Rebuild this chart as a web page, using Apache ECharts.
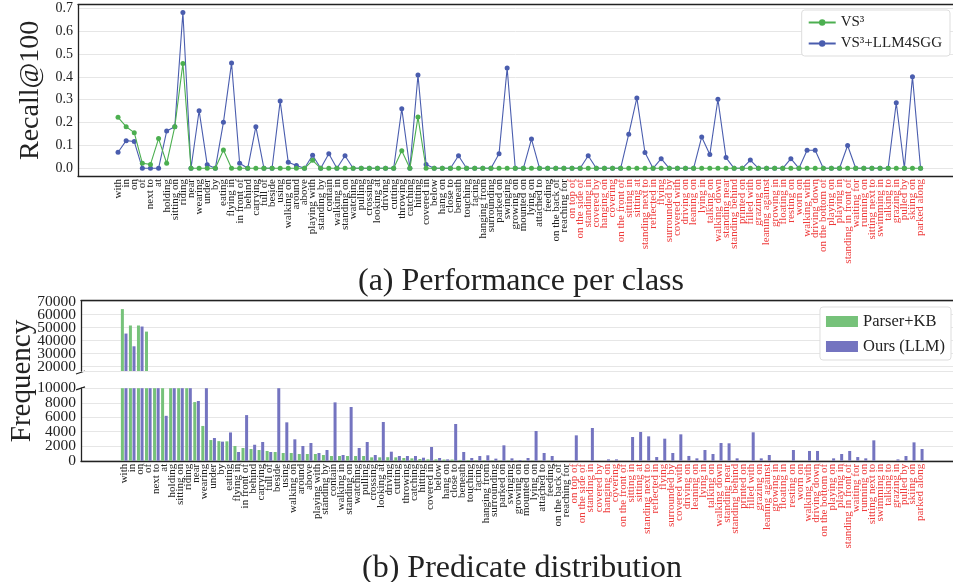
<!DOCTYPE html>
<html>
<head>
<meta charset="utf-8">
<script src="https://cdn.jsdelivr.net/npm/echarts@6/dist/echarts.min.js"></script>
<style>
html, body { margin: 0; padding: 0; background: #fff; }
#chart { width: 953px; height: 582px; }
</style>
</head>
<body>
<div id="chart"></div>
<script>
// predicate classes, ordered as on the x axis; from index 56 on they are drawn in red
const predicates = [
  'with', 'in', 'on', 'of', 'next to', 'at', 'holding', 'sitting on', 'riding', 'near',
  'wearing', 'under', 'by', 'eating', 'flying in', 'in front of', 'behind', 'carrying', 'full of', 'beside',
  'using', 'walking on', 'around', 'above', 'playing with', 'standing by', 'contain', 'walking in', 'standing on', 'watching',
  'pulling', 'crossing', 'looking at', 'driving', 'cutting', 'throwing', 'catching', 'hitting', 'covered in', 'below',
  'hang on', 'close to', 'beneath', 'touching', 'facing', 'hanging from', 'surrounding', 'parked on', 'swinging', 'growing on',
  'mounted on', 'lying on', 'attached to', 'feeding', 'on the back of', 'reaching for', 'on top of', 'on the side of', 'standing in', 'covered by',
  'hanging on', 'covering', 'on the front of', 'sitting in', 'sitting at', 'standing next to', 'reflected in', 'flying', 'surrounded by', 'covered with',
  'driving on', 'leaning on', 'lying in', 'talking on', 'walking down', 'standing near', 'standing behind', 'printed on', 'filled with', 'grazing on',
  'leaning against', 'growing in', 'floating in', 'resting on', 'worn on', 'walking with', 'driving down', 'on the bottom of', 'playing on', 'playing in',
  'standing in front of', 'waiting for', 'running on', 'sitting next to', 'swimming in', 'talking to', 'grazing in', 'pulled by', 'skiing on', 'parked along'
]
const firstNewIndex = 56

// (a) Recall@100 per class
const recallVS3 = [
  0.223, 0.182, 0.156, 0.022, 0.017, 0.13, 0.022, 0.182, 0.459, 0,
  0, 0, 0, 0.08, 0, 0, 0, 0, 0, 0,
  0, 0, 0, 0, 0.035, 0, 0, 0, 0, 0,
  0, 0, 0, 0, 0, 0.077, 0, 0.224, 0, 0,
  0, 0, 0, 0, 0, 0, 0, 0, 0, 0,
  0, 0, 0, 0, 0, 0, 0, 0, 0, 0,
  0, 0, 0, 0, 0, 0, 0, 0, 0, 0,
  0, 0, 0, 0, 0, 0, 0, 0, 0, 0,
  0, 0, 0, 0, 0, 0, 0, 0, 0, 0,
  0, 0, 0, 0, 0, 0, 0, 0, 0, 0
]
const recallLLM4SGG = [
  0.07, 0.121, 0.117, 0, 0, 0, 0.163, 0.182, 0.682, 0,
  0.252, 0.016, 0, 0.201, 0.461, 0.022, 0, 0.182, 0, 0,
  0.294, 0.026, 0.012, 0, 0.057, 0, 0.064, 0, 0.055, 0,
  0, 0, 0, 0, 0, 0.261, 0, 0.408, 0.017, 0,
  0, 0, 0.055, 0, 0, 0, 0, 0.064, 0.439, 0,
  0, 0.128, 0, 0, 0, 0, 0, 0, 0.055, 0,
  0, 0, 0, 0.149, 0.308, 0.069, 0, 0.042, 0, 0,
  0, 0, 0.137, 0.06, 0.302, 0.047, 0, 0, 0.036, 0,
  0, 0, 0, 0.042, 0, 0.079, 0.079, 0, 0, 0,
  0.1, 0, 0, 0, 0, 0, 0.287, 0, 0.401, 0
]

// (b) predicate frequency
const freqParserKB = [
  64300, 51700, 51700, 47000, 15500, 14000, 12500, 11500, 10500, 8100,
  4800, 2850, 2700, 2670, 2030, 1750, 1610, 1470, 1340, 1200,
  1060, 1060, 920, 920, 920, 780, 645, 645, 645, 645,
  645, 460, 460, 480, 460, 370, 320, 230, 180, 180,
  150, 150, 100, 80, 70, 60, 50, 40, 40, 30,
  30, 30, 20, 20, 10, 10, 0, 0, 0, 0,
  0, 0, 0, 0, 0, 0, 0, 0, 0, 0,
  0, 0, 0, 0, 0, 0, 0, 0, 0, 0,
  0, 0, 0, 0, 0, 0, 0, 0, 0, 0,
  0, 0, 0, 0, 0, 0, 0, 0, 0, 0
]
const freqOurs = [
  45500, 35700, 50900, 14000, 13000, 6200, 12000, 12000, 11000, 8250,
  10500, 3130, 2630, 3900, 1200, 6300, 2200, 2580, 1200, 10500,
  5300, 2950, 2030, 2440, 1060, 1470, 8060, 780, 7420, 1750,
  2580, 780, 5350, 1240, 645, 645, 645, 410, 1890, 370,
  180, 5070, 1200, 370, 645, 740, 280, 2120, 320, 90,
  370, 4100, 1060, 645, 0, 0, 3500, 0, 4520, 0,
  180, 180, 0, 3270, 3960, 3360, 500, 3040, 1060, 3640,
  650, 320, 1470, 920, 2440, 2400, 320, 0, 3920, 320,
  780, 0, 0, 1470, 0, 1340, 1340, 0, 320, 920,
  1340, 500, 320, 2810, 0, 0, 180, 640, 2530, 1610
]

const SERIF = '"Liberation Serif", "DejaVu Serif", serif'
const INK = '#222'
const RED = '#ee3b3b'
const GRID_LINE = '#e6e6e6'

const pairs = (arr) => arr.map((v, i) => [i, v])

// label positions: every class, plus a blank one at each end so that
// echarts' min/max label check never hides a real class name
function labelValues(min, max) {
  return [min + 0.05].concat(predicates.map((_, i) => i), [max - 0.05])
}

function categoryLabels(show, min, max) {
  return {
    show: show,
    customValues: labelValues(min, max),
    showMinLabel: false,
    showMaxLabel: false,
    rotate: 90,
    margin: 3,
    fontSize: 11,
    fontFamily: SERIF,
    formatter: (v) => predicates[v] || ' ',
    color: (v) => (Number(v) >= firstNewIndex ? RED : INK)
  }
}

function frameAxis(gridIndex, position, min, max, labels) {
  return {
    type: 'value',
    gridIndex: gridIndex,
    position: position,
    min: min,
    max: max,
    axisLine: { show: true, onZero: false, lineStyle: { color: INK, width: 1.3 } },
    axisTick: { show: false },
    splitLine: { show: false },
    axisLabel: categoryLabels(labels, min, max)
  }
}

function valueAxis(gridIndex, extra) {
  return Object.assign({
    type: 'value',
    gridIndex: gridIndex,
    axisLine: { show: true, onZero: false, lineStyle: { color: INK, width: 1.3 } },
    axisTick: { show: false },
    splitLine: { lineStyle: { color: GRID_LINE } }
  }, extra)
}

function numberLabels(size, formatter) {
  return {
    fontSize: size,
    margin: 5,
    fontFamily: SERIF,
    color: INK,
    showMinLabel: false,
    showMaxLabel: false,
    formatter: formatter
  }
}

// little slanted marks where the frequency axis is broken
function breakMark(y) {
  return {
    type: 'line',
    shape: { x1: 76, y1: y + 1.5, x2: 85, y2: y - 1.5 },
    style: { stroke: INK, lineWidth: 1.3 }
  }
}

const option = {
  animation: false,
  textStyle: { fontFamily: SERIF, color: INK },
  title: [
    {
      text: '(a) Performance per class',
      left: 516,
      top: 261,
      textAlign: 'center',
      textStyle: { fontSize: 32, fontWeight: 'normal', fontFamily: SERIF, color: INK }
    },
    {
      text: '(b) Predicate distribution',
      left: 517,
      top: 548,
      textAlign: 'center',
      textStyle: { fontSize: 32, fontWeight: 'normal', fontFamily: SERIF, color: INK }
    }
  ],
  legend: [
    {
      data: ['VS³', 'VS³+LLM4SGG'],
      orient: 'vertical',
      right: 3,
      top: 10,
      itemWidth: 27,
      itemHeight: 8,
      itemGap: 6,
      padding: [5, 8, 5, 6],
      borderColor: '#dddddd',
      borderWidth: 1,
      borderRadius: 3,
      backgroundColor: '#fff',
      textStyle: { fontSize: 15, fontFamily: SERIF, color: INK }
    },
    {
      data: ['Parser+KB', 'Ours (LLM)'],
      orient: 'vertical',
      icon: 'rect',
      right: 2,
      top: 307,
      itemWidth: 32,
      itemHeight: 11,
      itemGap: 8,
      padding: [6, 6, 5, 6],
      borderColor: '#dddddd',
      borderWidth: 1,
      borderRadius: 3,
      backgroundColor: '#fff',
      textStyle: { fontSize: 16.5, fontFamily: SERIF, color: INK }
    }
  ],
  grid: [
    { left: 78, right: 0, top: 4.7, height: 171.3 },
    { left: 81, right: 0, top: 300.7, height: 70.3 },
    { left: 81, right: 0, top: 388.2, height: 72.6 }
  ],
  xAxis: [
    frameAxis(0, 'bottom', -4.94, 103.0, true),
    frameAxis(0, 'top', -4.94, 103.0, false),
    frameAxis(1, 'top', -5.37, 103.07, false),
    frameAxis(2, 'bottom', -5.37, 103.07, true)
  ],
  yAxis: [
    valueAxis(0, {
      min: -0.0337,
      max: 0.7158,
      splitNumber: 7,
      name: 'Recall@100',
      nameLocation: 'middle',
      nameGap: 30,
      nameTextStyle: { fontSize: 28, fontFamily: SERIF, color: INK },
      axisLabel: numberLabels(14, (v) => (Math.abs(v * 10 - Math.round(v * 10)) < 1e-6 ? v.toFixed(1) : ''))
    }),
    valueAxis(1, {
      min: 16690,
      max: 70770,
      splitNumber: 5,
      axisLabel: numberLabels(15.5, (v) => (v % 10000 === 0 ? String(v) : ''))
    }),
    valueAxis(2, {
      min: -20,
      max: 10020,
      splitNumber: 5,
      axisLabel: numberLabels(15.5, (v) => (v % 2000 === 0 ? String(v) : ''))
    })
  ],
  graphic: [
    {
      type: 'text',
      x: 22,
      y: 381,
      rotation: Math.PI / 2,
      style: {
        text: 'Frequency',
        fontSize: 29,
        fontFamily: SERIF,
        fill: INK,
        align: 'center',
        verticalAlign: 'middle'
      }
    },
    breakMark(372.5),
    breakMark(388.3)
  ],
  series: [
    {
      name: 'VS³',
      type: 'line',
      xAxisIndex: 0,
      yAxisIndex: 0,
      data: pairs(recallVS3),
      symbol: 'circle',
      symbolSize: 5,
      color: '#4caf50',
      lineStyle: { width: 1.1 },
      z: 3
    },
    {
      name: 'VS³+LLM4SGG',
      type: 'line',
      xAxisIndex: 0,
      yAxisIndex: 0,
      data: pairs(recallLLM4SGG),
      symbol: 'circle',
      symbolSize: 5,
      color: '#4a5dae',
      lineStyle: { width: 1.1 },
      z: 2
    },
    {
      name: 'Parser+KB',
      type: 'bar',
      xAxisIndex: 2,
      yAxisIndex: 1,
      data: pairs(freqParserKB),
      barWidth: 3,
      barGap: '20%',
      color: '#76c27a'
    },
    {
      name: 'Ours (LLM)',
      type: 'bar',
      xAxisIndex: 2,
      yAxisIndex: 1,
      data: pairs(freqOurs),
      barWidth: 3,
      barGap: '20%',
      color: '#7474c0'
    },
    {
      name: 'Parser+KB',
      type: 'bar',
      xAxisIndex: 3,
      yAxisIndex: 2,
      data: pairs(freqParserKB),
      barWidth: 3,
      barGap: '20%',
      color: '#76c27a'
    },
    {
      name: 'Ours (LLM)',
      type: 'bar',
      xAxisIndex: 3,
      yAxisIndex: 2,
      data: pairs(freqOurs),
      barWidth: 3,
      barGap: '20%',
      color: '#7474c0'
    }
  ]
}

const chart = echarts.init(document.getElementById('chart'))
chart.setOption(option)
</script>
</body>
</html>
